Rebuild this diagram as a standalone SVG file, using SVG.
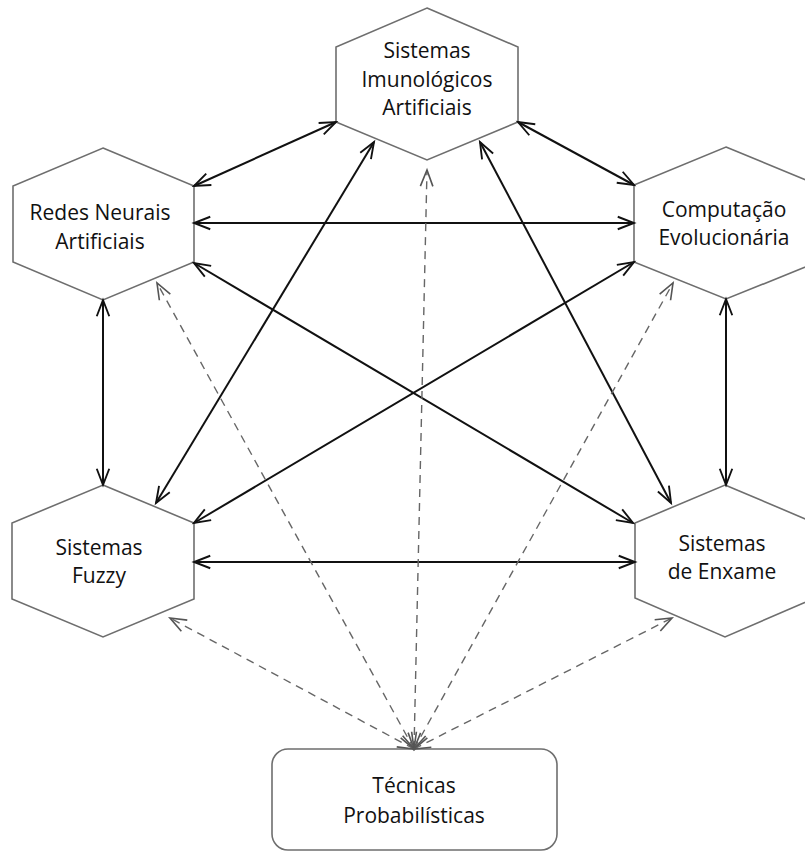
<svg xmlns="http://www.w3.org/2000/svg" width="805" height="860" viewBox="0 0 805 860">
<style>
.hex{fill:#fff;stroke:#6e6e6e;stroke-width:1.6}
.lbl{font-family:"Open Sans","Liberation Sans",sans-serif;font-size:21px;fill:#111;text-anchor:middle}
.solid{stroke:#111;stroke-width:2;fill:none;marker-start:url(#ah);marker-end:url(#ah)}
.dash{stroke:#666;stroke-width:1.4;fill:none;stroke-dasharray:8 6;marker-start:url(#ahd);marker-end:url(#ahd)}
</style>
<defs>
<marker id="ah" markerUnits="userSpaceOnUse" markerWidth="20" markerHeight="20" refX="0" refY="0" viewBox="-14 -8 16 16" orient="auto-start-reverse" overflow="visible">
<path d="M-13,-5 L0,0 L-13,5" fill="none" stroke="#111" stroke-width="1.5"/>
</marker>
<marker id="ahd" markerUnits="userSpaceOnUse" markerWidth="20" markerHeight="20" refX="0" refY="0" viewBox="-14 -8 16 16" orient="auto-start-reverse" overflow="visible">
<path d="M-13,-5 L0,0 L-13,5" fill="none" stroke="#555" stroke-width="1.3"/>
</marker>
</defs>
<rect width="805" height="860" fill="#fff"/>
<g id="imuno">
<polygon class="hex" points="427,8 518,47 518,122 427,160 336,122 336,47"/>
<text class="lbl" x="427" y="58">Sistemas</text>
<text class="lbl" x="427" y="87">Imunológicos</text>
<text class="lbl" x="427" y="115">Artificiais</text>
</g>
<g id="redes">
<polygon class="hex" points="103,148 194,186 194,262 103,300 13,262 13,186"/>
<text class="lbl" x="100" y="220">Redes Neurais</text>
<text class="lbl" x="100" y="249">Artificiais</text>
</g>
<g id="computacao">
<polygon class="hex" points="726,147 818,185 818,262 726,299 634,262 634,185"/>
<text class="lbl" x="724" y="217">Computação</text>
<text class="lbl" x="724" y="245">Evolucionária</text>
</g>
<g id="fuzzy">
<polygon class="hex" points="103,485 194,523 194,599 103,637 12,599 12,523"/>
<text class="lbl" x="99" y="555">Sistemas</text>
<text class="lbl" x="99" y="583">Fuzzy</text>
</g>
<g id="enxame">
<polygon class="hex" points="725,485 815,523 815,598 725,637 635,598 635,523"/>
<text class="lbl" x="722" y="551">Sistemas</text>
<text class="lbl" x="722" y="579">de Enxame</text>
</g>
<g id="probabilisticas">
<rect x="272" y="749" width="285" height="101" rx="16" fill="#fff" stroke="#6e6e6e" stroke-width="1.6"/>
<text class="lbl" x="414" y="793">Técnicas</text>
<text class="lbl" x="414" y="823">Probabilísticas</text>
</g>
<g id="connectors">
<line class="solid" x1="336" y1="122" x2="194" y2="186"/>
<line class="solid" x1="518" y1="122" x2="634" y2="185"/>
<line class="solid" x1="194" y1="223" x2="634" y2="223"/>
<line class="solid" x1="103" y1="300" x2="103" y2="485"/>
<line class="solid" x1="726" y1="299" x2="726" y2="485"/>
<line class="solid" x1="194" y1="562" x2="635" y2="562"/>
<line class="solid" x1="374" y1="142" x2="156" y2="503"/>
<line class="solid" x1="480" y1="142" x2="671" y2="503"/>
<line class="solid" x1="634" y1="262" x2="194" y2="523"/>
<line class="solid" x1="194" y1="263" x2="633" y2="523"/>
<line class="dash" x1="414" y1="749" x2="427" y2="170"/>
<line class="dash" x1="414" y1="749" x2="157" y2="283"/>
<line class="dash" x1="414" y1="749" x2="673" y2="283"/>
<line class="dash" x1="414" y1="749" x2="170" y2="618"/>
<line class="dash" x1="414" y1="749" x2="672" y2="618"/>
</g>
</svg>
